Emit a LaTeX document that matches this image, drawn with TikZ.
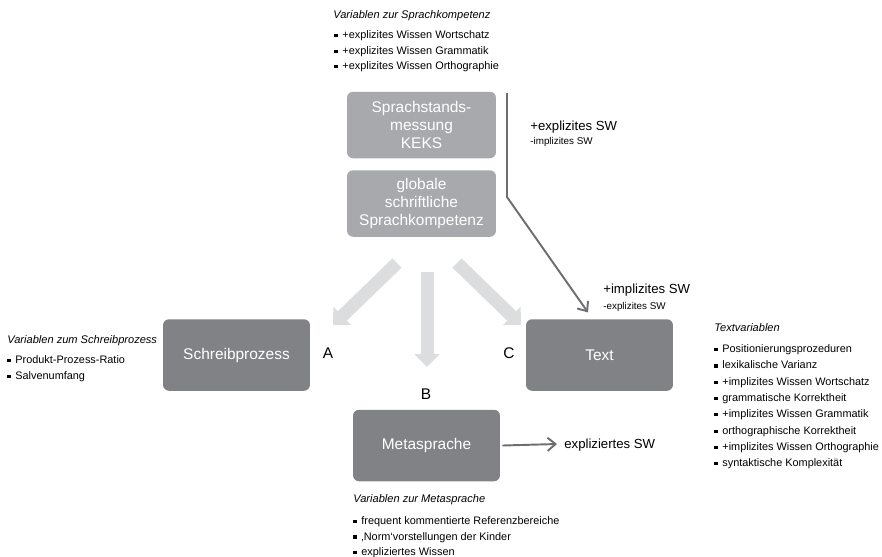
\documentclass[tikz,border=0pt]{standalone}
\usepackage{fontspec}
\setmainfont{Liberation Sans}
\usetikzlibrary{arrows.meta}

\definecolor{boxhell}{HTML}{A7A9AC}
\definecolor{boxdunkel}{HTML}{808285}
\definecolor{pfeilhell}{HTML}{DCDDDE}
\definecolor{linie}{HTML}{6D6E71}
\newcommand{\sq}{\rule[0.25ex]{0.55ex}{0.55ex}\hspace{0.45em}}

\tikzset{
  hellbox/.style={fill=boxhell, rounded corners=0.12cm, text=white, align=center,
    minimum width=2.98cm, minimum height=1.33cm, inner sep=1pt,
    font=\fontsize{8.8}{10.2}\selectfont},
  dunkelbox/.style={fill=boxdunkel, rounded corners=0.12cm, text=white, align=center,
    minimum width=2.94cm, minimum height=1.43cm, inner sep=1pt,
    font=\fontsize{8.8}{10.2}\selectfont},
  zeile/.style={anchor=west, inner sep=0pt, text height=1.3ex, text depth=0.3ex},
  titel/.style={zeile, font=\fontsize{6.3}{7.5}\selectfont\itshape},
  punkt/.style={zeile, font=\fontsize{6.2}{7.5}\selectfont},
  gross/.style={zeile, font=\fontsize{7.5}{9}\selectfont},
  klein/.style={zeile, font=\fontsize{5.6}{7}\selectfont},
  buchst/.style={inner sep=0pt, font=\fontsize{8.8}{10}\selectfont},
  breitpfeil/.style={draw=pfeilhell, line width=0.26cm,
    -{Triangle[width=0.5cm, length=0.26cm]}},
  duennpfeil/.style={draw=linie, line width=1.1pt,
    -{Straight Barb[width=7.5pt, length=4.5pt, line width=1.1pt]}}
}

\begin{document}
\begin{tikzpicture}[x=0.02cm, y=-0.02cm]
  \useasboundingbox (0,0) rectangle (882,556);

  % Kästen
  \node[hellbox] (keks) at (421.5,125) {Sprachstands-\\messung\\KEKS};
  \node[hellbox] (global) at (421.5,203.5) {globale\\schriftliche\\Sprachkompetenz};
  \node[dunkelbox] (schreib) at (236.5,355) {Schreibprozess};
  \node[dunkelbox] (text) at (599.5,355) {Text};
  \node[dunkelbox] (meta) at (426.5,445.5) {Metasprache};

  % Buchstaben A, B, C
  \node[buchst] (a) at (328,353) {A};
  \node[buchst] (b) at (426,394) {B};
  \node[buchst] (c) at (509,353) {C};

  % breite helle Pfeile
  \coordinate (la) at (397,263);
  \coordinate (le) at (333,325);
  \coordinate (ma) at (427,272);
  \coordinate (me) at (427,367);
  \coordinate (ra) at (457,263);
  \coordinate (re) at (521,325);
  \draw[breitpfeil] (la) -- (le);
  \draw[breitpfeil] (ma) -- (me);
  \draw[breitpfeil] (ra) -- (re);

  % Linie zum Text
  \coordinate (oben) at (507,93);
  \coordinate (knick) at (507,197);
  \draw[duennpfeil] (oben) -- (knick) -- ([xshift=-0.23cm, yshift=0.13cm]text.north);
  \node[gross] (explsw) at (530,126) {+explizites SW};
  \node[klein] (implsw) at (530,140) {-implizites SW};
  \node[gross] (implsw2) at (603,289) {+implizites SW};
  \node[klein] (explsw2) at (603,305) {-explizites SW};

  % Pfeil von Metasprache
  \node[gross] (expliziert) at (564,444) {expliziertes SW};
  \draw[duennpfeil] ([xshift=0.04cm]meta.east) -- ([xshift=-0.14cm]expliziert.west);

  % Variablen zur Sprachkompetenz
  \node[titel] (vsk) at (333,14) {Variablen zur Sprachkompetenz};
  \foreach \t [count=\i] in {{+explizites Wissen Wortschatz},
      {+explizites Wissen Grammatik}, {+explizites Wissen Orthographie}}
    \node[punkt] (sk\i) at (334,{34+15.6*(\i-1)}) {\sq\t};

  % Variablen zum Schreibprozess
  \node[titel] (vsp) at (7,339) {Variablen zum Schreibprozess};
  \foreach \t [count=\i] in {{Produkt-Prozess-Ratio}, {Salvenumfang}}
    \node[punkt] (sp\i) at (7,{359+16*(\i-1)}) {\sq\t};

  % Textvariablen
  \node[titel] (vtv) at (714,327) {Textvariablen};
  \foreach \t [count=\i] in {{Positionierungsprozeduren}, {lexikalische Varianz},
      {+implizites Wissen Wortschatz}, {grammatische Korrektheit},
      {+implizites Wissen Grammatik}, {orthographische Korrektheit},
      {+implizites Wissen Orthographie}, {syntaktische Komplexität}}
    \node[punkt] (tv\i) at (714,{348+16.3*(\i-1)}) {\sq\t};

  % Variablen zur Metasprache
  \node[titel] (vms) at (353,498) {Variablen zur Metasprache};
  \foreach \t [count=\i] in {{frequent kommentierte Referenzbereiche},
      {‚Norm‘vorstellungen der Kinder}, {expliziertes Wissen}}
    \node[punkt] (ms\i) at (353,{520+15.4*(\i-1)}) {\sq\t};
\end{tikzpicture}
\end{document}
